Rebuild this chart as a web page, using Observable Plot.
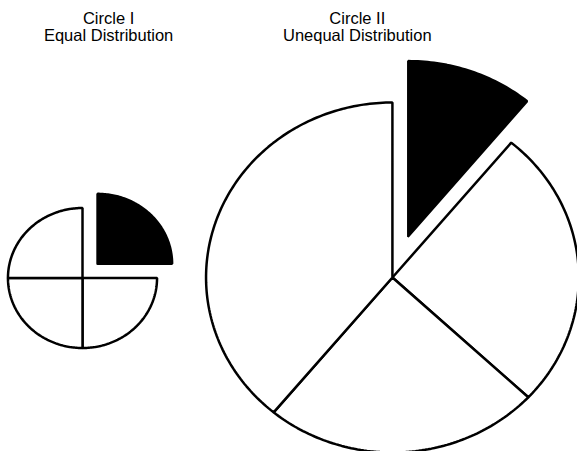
<!DOCTYPE html>
<html>
<head>
<meta charset="utf-8">
<script src="https://cdn.jsdelivr.net/npm/d3@7"></script>
<script src="https://cdn.jsdelivr.net/npm/@observablehq/plot@0.6"></script>
<style>
  html, body { margin: 0; padding: 0; background: #fff; }
  #chart svg { display: block; }
</style>
</head>
<body>
<div id="chart"></div>
<script>
// ---- data ----
const circleNames = ["Circle I", "Circle II"];
const circleSubtitles = ["Equal Distribution", "Unequal Distribution"];
// shares clockwise from 12 o'clock; the first slice is highlighted (black, pulled out)
const sharesI = [25, 25, 25, 25];
const sharesII = [11, 26, 24, 39];

// ---- layout (units; x scale stretches slightly like the scan) ----
const W = 577, H = 451, SX = 1.065;
const pies = [
  {name: circleNames[0], sub: circleSubtitles[0], shares: sharesI, cx: 77, cy: 277.5, r: 70, explode: 20, tx: 101.5},
  {name: circleNames[1], sub: circleSubtitles[1], shares: sharesII, cx: 368, cy: 277, r: 175, explode: 44, tx: 335}
];

const pts = [];
pies.forEach((p, pi) => {
  const total = d3.sum(p.shares);
  let acc = 0;
  p.shares.forEach((v, si) => {
    const a0 = acc / total * 2 * Math.PI;
    acc += v;
    const a1 = acc / total * 2 * Math.PI;
    const hi = si === 0;
    const mid = (a0 + a1) / 2;
    const ox = hi ? p.explode * Math.sin(mid) : 0;
    const oy = hi ? -p.explode * Math.cos(mid) : 0;
    const cx = p.cx + ox, cy = p.cy + oy;
    const id = `${pi}-${si}`;
    const fill = hi ? "black" : "white";
    pts.push({id, fill, x: cx, y: cy});
    const n = Math.max(8, Math.ceil((a1 - a0) / (Math.PI / 180)));
    for (let k = 0; k <= n; k++) {
      const a = a0 + (a1 - a0) * k / n;
      pts.push({id, fill, x: cx + p.r * Math.sin(a), y: cy - p.r * Math.cos(a)});
    }
    pts.push({id, fill, x: cx, y: cy});
  });
});

const titles = pies.map(p => ({x: p.tx, y: 26.5, text: p.name + "\n" + p.sub}));

const chart = Plot.plot({
  width: W,
  height: H,
  margin: 0,
  x: {domain: [0, W / SX], range: [0, W], axis: null},
  y: {domain: [0, H], range: [0, H], axis: null},
  style: {fontFamily: "'Liberation Sans', Arial, sans-serif", background: "white"},
  marks: [
    Plot.line(pts, {
      x: "x", y: "y", z: "id",
      fill: d => d.fill, stroke: "black", strokeWidth: 2.5,
      strokeLinejoin: "miter", curve: "linear"
    }),
    Plot.text(titles, {
      x: "x", y: "y", text: "text",
      fontSize: 16.5, lineHeight: 1.03, fill: "black",
      textAnchor: "middle", lineAnchor: "middle"
    })
  ]
});
document.getElementById("chart").append(chart);
</script>
</body>
</html>
